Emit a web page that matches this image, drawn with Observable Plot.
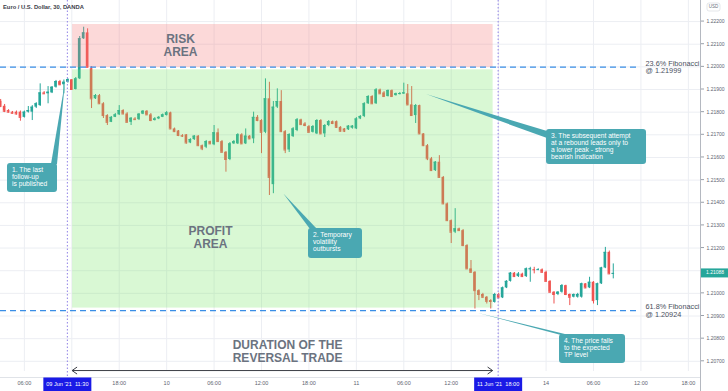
<!DOCTYPE html>
<html><head><meta charset="utf-8">
<script src="https://cdn.jsdelivr.net/npm/d3@7"></script>
<script src="https://cdn.jsdelivr.net/npm/@observablehq/plot@0.6"></script>
<style>
html,body{margin:0;padding:0;background:#fff;}
#chart{position:relative;width:728px;height:391px;overflow:hidden;}
#chart svg{display:block;}
</style></head><body><div id="chart"></div>
<script>
// ---- 30-minute candles (bar index 0 = 09 Jun 03:00) ----
const open=[1.21848,1.21826,1.21807,1.21800,1.21800,1.21800,1.21777,1.21800,1.21800,1.21822,
1.21829,1.21885,1.21881,1.21885,1.21910,1.21935,1.21921,1.21932,1.21943,1.21900,
1.21947,1.22124,1.22150,1.21992,1.21859,1.21873,1.21837,1.21785,1.21755,1.21777,
1.21788,1.21807,1.21792,1.21755,1.21770,1.21767,1.21791,1.21804,1.21788,1.21763,
1.21770,1.21777,1.21785,1.21797,1.21726,1.21717,1.21697,1.21700,1.21664,1.21679,
1.21694,1.21652,1.21645,1.21670,1.21656,1.21709,1.21670,1.21623,1.21591,1.21660,
1.21660,1.21700,1.21660,1.21694,1.21682,1.21777,1.21763,1.21711,1.21859,1.21480,
1.21822,1.21847,1.21714,1.21633,1.21692,1.21719,1.21766,1.21748,1.21736,1.21711,
1.21704,1.21763,1.21704,1.21741,1.21758,1.21758,1.21733,1.21726,1.21722,1.21729,
1.21726,1.21770,1.21781,1.21837,1.21869,1.21837,1.21898,1.21885,1.21869,1.21895,
1.21873,1.21878,1.21881,1.21881,1.21832,1.21785,1.21829,1.21704,1.21652,1.21594,
1.21542,1.21579,1.21512,1.21395,1.21321,1.21270,1.21285,1.21277,1.21211,1.21108,
1.21093,1.21012,1.20995,1.20983,1.20968,1.20960,1.20995,1.20980,1.21024,1.21053,
1.21089,1.21074,1.21085,1.21074,1.21105,1.21105,1.21105,1.21104,1.21093,1.21053,
1.21005,1.20995,1.21005,1.21034,1.20995,1.20983,1.20983,1.20983,1.21042,1.21024,
1.21049,1.20968,1.21042,1.21112,1.21181,1.21087];
const high=[1.21856,1.21834,1.21811,1.21803,1.21805,1.21805,1.21805,1.21825,1.21829,1.21842,
1.21925,1.21891,1.21913,1.21913,1.21940,1.21940,1.21942,1.21948,1.21944,1.21953,
1.22134,1.22175,1.22168,1.22001,1.21878,1.21878,1.21842,1.21789,1.21781,1.21794,
1.21829,1.21811,1.21798,1.21776,1.21776,1.21794,1.21807,1.21807,1.21794,1.21776,
1.21781,1.21792,1.21803,1.21800,1.21730,1.21719,1.21701,1.21701,1.21683,1.21697,
1.21697,1.21655,1.21675,1.21672,1.21741,1.21726,1.21675,1.21626,1.21666,1.21675,
1.21705,1.21705,1.21726,1.21697,1.21800,1.21785,1.21767,1.21947,1.21932,1.21847,
1.21903,1.21895,1.21719,1.21705,1.21732,1.21772,1.21769,1.21754,1.21741,1.21741,
1.21767,1.21767,1.21745,1.21763,1.21761,1.21761,1.21736,1.21728,1.21741,1.21741,
1.21776,1.21785,1.21842,1.21873,1.21873,1.21904,1.21902,1.21891,1.21898,1.21898,
1.21884,1.21887,1.21928,1.21922,1.21913,1.21834,1.21831,1.21705,1.21657,1.21600,
1.21582,1.21608,1.21516,1.21399,1.21324,1.21374,1.21288,1.21282,1.21215,1.21145,
1.21096,1.21016,1.21000,1.20986,1.20972,1.21000,1.21000,1.21028,1.21056,1.21092,
1.21092,1.21092,1.21089,1.21112,1.21115,1.21115,1.21109,1.21108,1.21098,1.21056,
1.21008,1.21008,1.21039,1.21036,1.20997,1.20997,1.21000,1.21045,1.21043,1.21071,
1.21052,1.21045,1.21115,1.21203,1.21187,1.21130];
const low=[1.21820,1.21798,1.21796,1.21792,1.21787,1.21760,1.21774,1.21796,1.21763,1.21816,
1.21825,1.21878,1.21837,1.21882,1.21906,1.21917,1.21881,1.21928,1.21898,1.21898,
1.21944,1.22121,1.21997,1.21816,1.21856,1.21834,1.21772,1.21741,1.21754,1.21776,
1.21785,1.21789,1.21754,1.21741,1.21763,1.21763,1.21789,1.21785,1.21758,1.21761,
1.21767,1.21776,1.21783,1.21723,1.21710,1.21692,1.21688,1.21659,1.21661,1.21675,
1.21648,1.21630,1.21639,1.21657,1.21652,1.21666,1.21619,1.21535,1.21586,1.21657,
1.21657,1.21657,1.21657,1.21679,1.21661,1.21758,1.21617,1.21705,1.21432,1.21440,
1.21816,1.21710,1.21617,1.21622,1.21688,1.21714,1.21741,1.21736,1.21708,1.21708,
1.21701,1.21701,1.21688,1.21736,1.21745,1.21728,1.21712,1.21710,1.21719,1.21725,
1.21723,1.21767,1.21776,1.21834,1.21834,1.21834,1.21878,1.21867,1.21867,1.21867,
1.21871,1.21876,1.21878,1.21829,1.21781,1.21750,1.21701,1.21648,1.21586,1.21538,
1.21538,1.21509,1.21392,1.21317,1.21220,1.21264,1.21273,1.21206,1.21105,1.21089,
1.20931,1.20968,1.20977,1.20953,1.20931,1.20957,1.20977,1.20977,1.21021,1.21050,
1.21070,1.21070,1.21070,1.21070,1.21049,1.21086,1.21100,1.21089,1.21050,1.21001,
1.20953,1.20990,1.21001,1.20990,1.20946,1.20980,1.20979,1.20979,1.21021,1.21021,
1.20953,1.20946,1.21039,1.21109,1.21083,1.21064];
const close=[1.21826,1.21804,1.21800,1.21795,1.21792,1.21777,1.21800,1.21807,1.21822,1.21837,
1.21885,1.21881,1.21888,1.21910,1.21935,1.21921,1.21932,1.21944,1.21900,1.21947,
1.22124,1.22150,1.21998,1.21859,1.21873,1.21837,1.21785,1.21755,1.21777,1.21788,
1.21807,1.21792,1.21755,1.21773,1.21767,1.21791,1.21804,1.21788,1.21763,1.21770,
1.21777,1.21788,1.21797,1.21726,1.21714,1.21697,1.21694,1.21664,1.21679,1.21694,
1.21652,1.21638,1.21670,1.21660,1.21709,1.21670,1.21623,1.21591,1.21660,1.21670,
1.21700,1.21660,1.21694,1.21682,1.21777,1.21763,1.21711,1.21859,1.21512,1.21822,
1.21847,1.21714,1.21633,1.21701,1.21726,1.21766,1.21745,1.21741,1.21711,1.21736,
1.21763,1.21704,1.21741,1.21758,1.21750,1.21733,1.21716,1.21716,1.21738,1.21738,
1.21770,1.21781,1.21837,1.21869,1.21837,1.21898,1.21881,1.21869,1.21895,1.21869,
1.21881,1.21882,1.21885,1.21832,1.21785,1.21829,1.21704,1.21652,1.21594,1.21542,
1.21579,1.21512,1.21395,1.21321,1.21270,1.21285,1.21277,1.21211,1.21108,1.21093,
1.21012,1.20995,1.20983,1.20965,1.20964,1.20995,1.20980,1.21024,1.21053,1.21089,
1.21074,1.21085,1.21074,1.21108,1.21108,1.21104,1.21105,1.21093,1.21053,1.21005,
1.20995,1.21005,1.21034,1.20995,1.20983,1.20995,1.20995,1.21042,1.21024,1.21049,
1.20968,1.21042,1.21112,1.21181,1.21086,1.21088];

// ---- axes ----
const timeTickIndex=[6,30,42,54,66,78,90,102,114,138,150,162,174];
const timeTickLabels=["06:00","18:00","10","06:00","12:00","18:00","11","06:00","12:00","14","06:00","12:00","18:00"];
const gridIndex=[6,18,30,42,54,66,78,90,102,114,126,138,150,162,174];
const markerIndex=[17,126];
const markerLabels=["09 Jun '21  11:30","11 Jun '21  18:00"];
const priceTicks=[1.222,1.221,1.220,1.219,1.218,1.217,1.216,1.215,1.214,1.213,1.212,1.211,1.210,1.209,1.208,1.207];
const lastPrice=1.21088;

// ---- annotations ----
const fibLevels=[1.21999,1.20924];
const fibLabels=["23.6% Fibonacci\n@ 1.21999","61.8% Fibonacci\n@ 1.20924"];
const zoneStartIdx=18.2, zoneEndIdx=124.6;
const riskTop=1.22187, riskBottom=1.21997, profitTop=1.21987, profitBottom=1.20935;
const areaLabels=["RISK\nAREA","PROFIT\nAREA","DURATION OF THE\nREVERSAL TRADE"];
const areaLabelIdx=[45.5,53.1,72.6];
const areaLabelPrice=[1.22096,1.21249,1.20744];
const durationPrice=1.20657;
const calloutText=[["1. The last","follow-up","is published"],["2. Temporary","volatility","outbursts"],
 ["3. The subsequent attempt","at a rebound leads only to","a lower peak - strong","bearish indication"],
 ["4. The price falls","to the expected","TP level"]];
const calloutTipIdx=[16.41,71.64,107.74,120.72];
const calloutTipPrice=[1.21931,1.21439,1.21878,1.20912];
const calloutBoxIdx=[1.73,77.89,138.11,141.4];
const calloutBoxPrice=[1.21573,1.21286,1.21723,1.20818];

const UP="#26a69a", DOWN="#ef5350";
const candles=open.map((o,i)=>({i,o,h:high[i],l:low[i],c:close[i],col:close[i]>=o?UP:DOWN}));
const FONT="'Liberation Sans', Arial, sans-serif";

const plot=Plot.plot({
  width:728,height:391,marginLeft:0,marginRight:28,marginTop:0,marginBottom:20,
  x:{domain:[-0.04,177.07],axis:null},
  y:{domain:[1.20655,1.22293],axis:null},
  color:{type:"identity"},
  style:{fontFamily:FONT,background:"#fff",overflow:"visible"},
  marks:[
    Plot.ruleX(gridIndex,{x:d=>d,stroke:"#eceef3",strokeWidth:1}),
    Plot.ruleY(priceTicks,{y:d=>d,stroke:"#eceef3",strokeWidth:1}),
    Plot.ruleX(candles,{x:"i",y1:"l",y2:"h",stroke:"col",strokeWidth:1}),
    Plot.rect(candles,{x1:d=>d.i-0.33,x2:d=>d.i+0.33,y1:"o",y2:"c",fill:"col"}),
    Plot.ruleY(candles,{y:"c",x1:d=>d.i-0.33,x2:d=>d.i+0.33,stroke:"col",strokeWidth:1}),
    Plot.rect([{a:zoneStartIdx,b:zoneEndIdx,t:riskTop,u:riskBottom}],{x1:"a",x2:"b",y1:"u",y2:"t",fill:"rgb(245,120,120)",fillOpacity:0.28}),
    Plot.rect([{a:zoneStartIdx,b:zoneEndIdx,t:profitTop,u:profitBottom}],{x1:"a",x2:"b",y1:"u",y2:"t",fill:"rgb(120,230,100)",fillOpacity:0.28}),
    Plot.ruleY(fibLevels,{y:d=>d,x1:-0.04,x2:161.9,stroke:"#3a8ee6",strokeWidth:1.3,strokeDasharray:"6,4"}),
    Plot.text(fibLevels,{y:d=>d,x:163.15,text:(d,i)=>fibLabels[i],textAnchor:"start",fontSize:7.3,lineHeight:1.05,fill:"#4a505e"}),
    Plot.text(areaLabels,{x:(d,i)=>areaLabelIdx[i],y:(d,i)=>areaLabelPrice[i],text:d=>d,fontSize:12,fontWeight:"bold",lineHeight:1.1,fill:"#6b7380"}),
    Plot.text(priceTicks.filter(p=>Math.abs(p-lastPrice)>0.0004),{y:d=>d,text:d=>d.toFixed(5),frameAnchor:"right",dx:6,textAnchor:"start",fontSize:5,fill:"#5d6370"}),
    Plot.text(timeTickIndex,{x:d=>d,text:(d,i)=>timeTickLabels[i],frameAnchor:"bottom",dy:13,fontSize:5.5,fill:"#5d6370"})
  ]
});
document.getElementById("chart").appendChild(plot);

const sx=v=>plot.scale("x").apply(v), sy=v=>plot.scale("y").apply(v);
const g=d3.select(plot).append("g").style("font-family",FONT).attr("text-anchor","start");

// axis borders
g.append("line").attr("x1",700.5).attr("x2",700.5).attr("y1",0).attr("y2",391).attr("stroke","#b4b8c0");
g.append("line").attr("x1",0).attr("x2",700).attr("y1",377.5).attr("y2",377.5).attr("stroke","#e0e3e8");
priceTicks.forEach(p=>g.append("line").attr("x1",701).attr("x2",704).attr("y1",sy(p)).attr("y2",sy(p)).attr("stroke","#9aa0aa"));

// dotted marker verticals
markerIndex.forEach(i=>g.append("line").attr("x1",sx(i)).attr("x2",sx(i)).attr("y1",0).attr("y2",378)
  .attr("stroke","#8f80e6").attr("stroke-width",1).attr("stroke-dasharray","1.5,2"));

// duration arrow
const ax1=sx(zoneStartIdx), ax2=sx(zoneEndIdx), ay=sy(durationPrice);
g.append("line").attr("x1",ax1).attr("x2",ax2).attr("y1",ay).attr("y2",ay).attr("stroke","#3a3d45").attr("stroke-width",1);
g.append("path").attr("d",`M${ax1+5},${ay-3.5}L${ax1},${ay}L${ax1+5},${ay+3.5}M${ax2-5},${ay-3.5}L${ax2},${ay}L${ax2-5},${ay+3.5}`)
  .attr("fill","none").attr("stroke","#3a3d45").attr("stroke-width",1);

// callouts
const CT="#4aa8b2";
const boxSize=[[50,29],[54,30],[100,35],[66,29]];
const bases=[[[44,1],[50,1]],[[2,1],[9,1]],[[1,2],[1,9]],[[2,1],[10,1]]];
calloutText.forEach((lines,k)=>{
  const tx=sx(calloutTipIdx[k]), ty=sy(calloutTipPrice[k]);
  const bx=sx(calloutBoxIdx[k]), by=sy(calloutBoxPrice[k]);
  const [w,h]=boxSize[k], b=bases[k];
  g.append("path").attr("d",`M${tx},${ty}L${bx+b[0][0]},${by+b[0][1]}L${bx+b[1][0]},${by+b[1][1]}Z`).attr("fill",CT);
  g.append("rect").attr("x",bx).attr("y",by).attr("width",w).attr("height",h).attr("rx",3).attr("fill",CT);
  lines.forEach((t,j)=>g.append("text").attr("x",bx+5).attr("y",by+7.3+j*6.9).attr("dominant-baseline","middle")
    .attr("text-anchor","start").attr("font-size",6.7).attr("fill","#fff").text(t));
});

// date marker boxes
markerIndex.forEach((i,k)=>{
  const cx=sx(i);
  g.append("rect").attr("x",cx-24).attr("y",377.5).attr("width",48).attr("height",13.5).attr("fill","#1a1ae6");
  g.append("text").attr("x",cx).attr("y",384.5).attr("text-anchor","middle").attr("dominant-baseline","middle")
    .attr("font-size",5.6).attr("fill","#fff").text(markerLabels[k]);
});

// last price box
const ly=sy(lastPrice);
g.append("rect").attr("x",701).attr("y",ly-4.5).attr("width",27).attr("height",9).attr("fill",UP);
g.append("text").attr("x",706).attr("y",ly).attr("text-anchor","start").attr("dominant-baseline","middle").attr("font-size",5).attr("fill","#fff").text(lastPrice.toFixed(5));

// currency tag & title
g.append("rect").attr("x",707).attr("y",3).attr("width",13).attr("height",8).attr("rx",2).attr("fill","#fff").attr("stroke","#d3d6dc").attr("stroke-width",0.6);
g.append("text").attr("x",713.5).attr("y",7.2).attr("text-anchor","middle").attr("dominant-baseline","middle").attr("font-size",4.5).attr("fill","#6a707c").text("USD");
g.append("text").attr("x",3).attr("y",7.5).attr("text-anchor","start").attr("dominant-baseline","middle").attr("font-size",5.8).attr("font-weight","bold").attr("fill","#3c404a").text("Euro / U.S. Dollar, 30, DANDA");
</script></body></html>
